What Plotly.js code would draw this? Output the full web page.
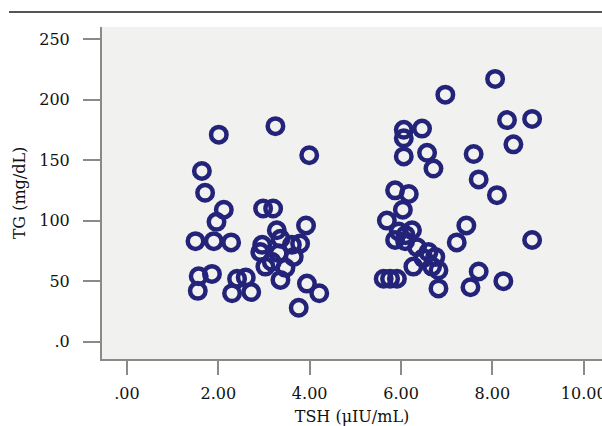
<!DOCTYPE html>
<html>
<head>
<meta charset="utf-8">
<script src="https://cdn.plot.ly/plotly-3.0.1.min.js"></script>
<style>html,body{margin:0;padding:0;background:#fff;}#chart{width:602px;height:426px;}</style>
</head>
<body>
<div id="chart"></div>
<script>
// TSH (µIU/mL) values
var tshValues = [
  2.01, 3.25, 3.99, 1.64, 1.71, 2.12, 1.96, 1.50, 1.90, 2.28,
  2.98, 3.20, 3.92, 3.28, 3.36, 2.96, 2.92, 3.32, 3.61, 3.79,
  3.65, 3.03, 3.47, 3.17, 3.36, 3.94, 4.21, 3.76, 2.72, 2.60,
  2.41, 2.30, 1.57, 1.86, 1.55,
  8.06, 6.97, 8.32, 8.87, 8.46, 6.06, 6.46, 6.06, 6.06, 6.57,
  6.71, 7.59, 7.70, 8.10, 5.87, 6.17, 6.04, 5.69, 5.95, 6.24,
  5.87, 6.09, 6.35, 6.60, 6.75, 6.49, 6.27, 6.68, 6.82, 6.82,
  5.62, 5.76, 5.91, 7.43, 7.22, 8.87, 7.52, 7.70, 8.24, 6.10
];
// TG (mg/dL) values
var tgValues = [
  171, 178, 154, 141, 123, 109, 99, 83, 83, 82,
  110, 110, 96, 92, 85, 80, 74, 73, 80, 81,
  70, 62, 61, 66, 51, 48, 40, 28, 41, 53,
  52, 40, 54, 56, 42,
  217, 204, 183, 184, 163, 175, 176, 168, 153, 156,
  143, 155, 134, 121, 125, 122, 109, 100, 91, 92,
  84, 83, 78, 74, 70, 69, 62, 62, 59, 44,
  52, 52, 52, 96, 82, 84, 45, 58, 50, 88
];
var xTickVals = [0, 2, 4, 6, 8, 10];
var xTickText = [".00", "2.00", "4.00", "6.00", "8.00", "10.00"];
var yTickVals = [0, 50, 100, 150, 200, 250];
var yTickText = [".0", "50", "100", "150", "200", "250"];

var trace = {
  x: tshValues,
  y: tgValues,
  type: 'scatter',
  mode: 'markers',
  marker: {symbol: 'circle-open', size: 15.5, color: '#23237a', line: {width: 4.5, color: '#23237a'}},
  hoverinfo: 'x+y'
};

var fontFam = '"DejaVu Serif", "Liberation Serif", serif';
var layout = {
  width: 602,
  height: 426,
  margin: {l: 102, r: 0, t: 27, b: 67, pad: 0},
  paper_bgcolor: '#ffffff',
  plot_bgcolor: '#f1f1ef',
  showlegend: false,
  font: {family: fontFam, size: 16, color: '#111111'},
  xaxis: {
    range: [-0.547, 10.40],
    tickvals: xTickVals,
    ticktext: xTickText,
    ticks: 'outside',
    ticklen: 14,
    tickwidth: 2,
    tickcolor: '#8a8a8a',
    ticklabelstandoff: 5,
    ticklabeloverflow: 'allow',
    showline: true,
    linecolor: '#8a8a8a',
    linewidth: 2,
    showgrid: false,
    zeroline: false,
    tickfont: {family: fontFam, size: 16, color: '#111111'},
    title: {text: 'TSH (μIU/mL)', font: {family: fontFam, size: 16, color: '#111111'}, standoff: 12},
    automargin: false
  },
  yaxis: {
    range: [-14.3, 259.9],
    tickvals: yTickVals,
    ticktext: yTickText,
    ticks: 'outside',
    ticklen: 17,
    tickwidth: 2,
    tickcolor: '#8a8a8a',
    ticklabelstandoff: 10,
    showline: true,
    linecolor: '#8a8a8a',
    linewidth: 2,
    showgrid: false,
    zeroline: false,
    tickfont: {family: fontFam, size: 16, color: '#111111'},
    title: {text: 'TG (mg/dL)', font: {family: fontFam, size: 16, color: '#111111'}, standoff: 10},
    automargin: false
  },
  shapes: [{
    type: 'line', xref: 'paper', yref: 'paper',
    x0: -0.186, x1: 1.0, y0: 1.0452, y1: 1.0452,
    line: {color: '#555555', width: 2}
  }]
};

Plotly.newPlot('chart', [trace], layout, {displayModeBar: false, staticPlot: true});
</script>
</body>
</html>
